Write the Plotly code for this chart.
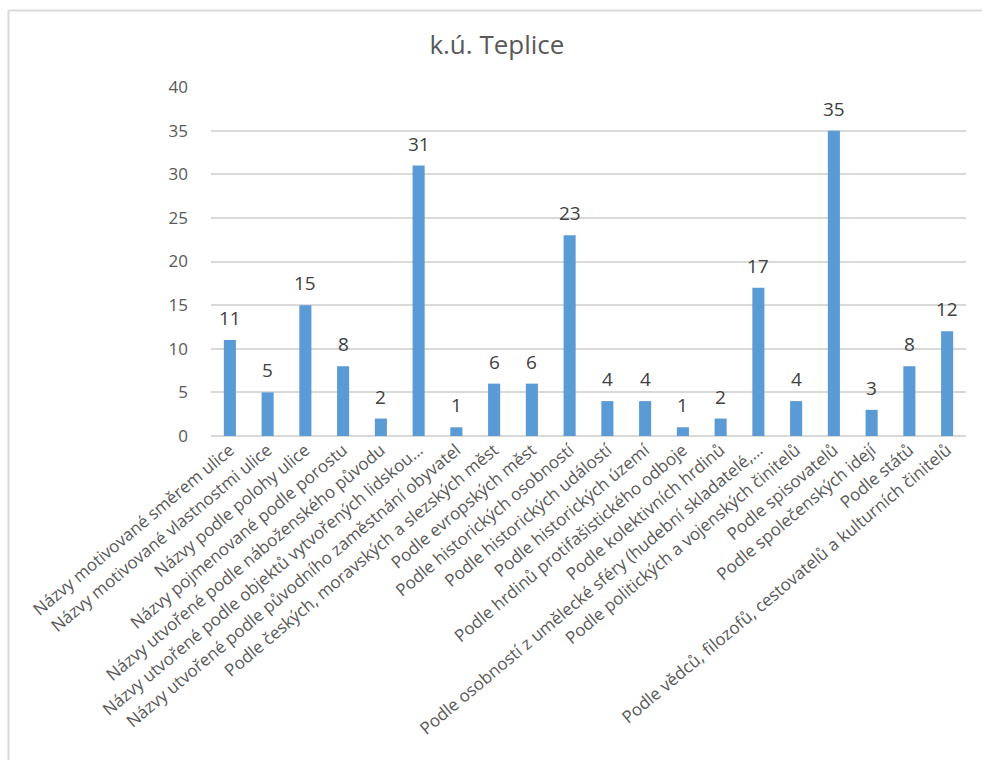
import plotly.graph_objects as go

# Street-name categories for the cadastral area of Teplice
categories = [
    "Názvy motivované směrem ulice",
    "Názvy motivované vlastnostmi ulice",
    "Názvy podle polohy ulice",
    "Názvy pojmenované podle porostu",
    "Názvy utvořené podle náboženského původu",
    "Názvy utvořené podle objektů vytvořených lidskou…",
    "Názvy utvořené podle původního zaměstnání obyvatel",
    "Podle českých, moravských a slezských měst",
    "Podle evropských měst",
    "Podle historických osobností",
    "Podle historických událostí",
    "Podle historických území",
    "Podle hrdinů protifašistického odboje",
    "Podle kolektivních hrdinů",
    "Podle osobností z umělecké sféry (hudební skladatelé,…",
    "Podle politických a vojenských činitelů",
    "Podle spisovatelů",
    "Podle společenských idejí",
    "Podle států",
    "Podle vědců, filozofů, cestovatelů a kulturních činitelů",
]
counts = [11, 5, 15, 8, 2, 31, 1, 6, 6, 23, 4, 4, 1, 2, 17, 4, 35, 3, 8, 12]
y_ticks = [0, 5, 10, 15, 20, 25, 30, 35, 40]

FONT = "Open Sans"
GRAY = "#595959"

fig = go.Figure(
    go.Bar(
        x=categories,
        y=counts,
        marker=dict(color="#5b9bd5", line=dict(width=0)),
        hoverinfo="x+y",
    )
)

# value labels above each bar
for cat, val in zip(categories, counts):
    fig.add_annotation(
        x=cat, y=val, text=str(val), showarrow=False,
        yanchor="bottom", yshift=7,
        font=dict(family=FONT, size=19, color="#404040"),
    )

# chart frame (light gray border)
left, top = (8.5 - 211) / 755, (436 - 10.5) / 349
fig.add_shape(type="line", xref="paper", yref="paper",
              x0=left, x1=left, y0=-1.0, y1=top,
              line=dict(color="#d9d9d9", width=2))
fig.add_shape(type="line", xref="paper", yref="paper",
              x0=left, x1=1.05, y0=top, y1=top,
              line=dict(color="#d9d9d9", width=2))

fig.update_layout(
    width=982, height=760,
    margin=dict(l=211, r=16, t=87, b=324),
    paper_bgcolor="white", plot_bgcolor="white",
    bargap=0.68,
    showlegend=False,
    title=dict(
        text="k.ú. Teplice", x=0.506, xanchor="center",
        y=1 - 45 / 760, yanchor="middle",
        font=dict(family=FONT, size=26, color=GRAY),
    ),
    font=dict(family=FONT, color=GRAY),
)

fig.update_xaxes(
    tickangle=-40,
    tickfont=dict(family=FONT, size=17, color=GRAY),
    showgrid=False, showline=False, ticks="",
)
fig.update_yaxes(
    range=[0, 40],
    tickvals=y_ticks,
    tickfont=dict(family=FONT, size=17, color=GRAY),
    showgrid=True, gridcolor="#d9d9d9", gridwidth=1.5,
    zeroline=True, zerolinecolor="#d9d9d9", zerolinewidth=1.5,
    showline=False, ticks="", ticklabelstandoff=22,
)

fig.write_html("out.html")
